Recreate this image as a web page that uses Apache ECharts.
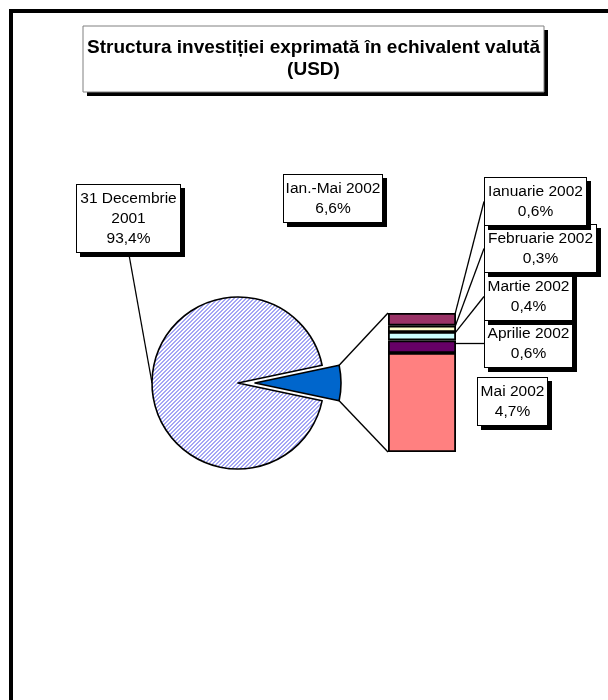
<!DOCTYPE html>
<html>
<head>
<meta charset="utf-8">
<title>Structura investiției</title>
<script src="https://cdn.jsdelivr.net/npm/echarts@6.0.0/dist/echarts.min.js"></script>
<style>
  html, body { margin: 0; padding: 0; background: #fff; }
  #chart { width: 608px; height: 700px; }
</style>
</head>
<body>
<div id="chart"></div>
<script>
// pie: new money in Jan-May 2002 vs. stock at end of 2001
const pieNames = ['Ian.-Mai 2002', '31 Decembrie\n2001'];
const pieValues = [6.6, 93.4];

// bar of pie: the months behind Ian.-Mai 2002 (top to bottom)
const monthNames = ['Ianuarie 2002', 'Februarie 2002', 'Martie 2002', 'Aprilie 2002', 'Mai 2002'];
const monthValues = [0.6, 0.3, 0.4, 0.6, 4.7];
const monthColors = ['#993366', '#ffffcc', '#ccffff', '#660066', '#ff8080'];

const FONT = 'Arial, "Liberation Sans", sans-serif';
const PIE_CX = 238, PIE_CY = 383, PIE_R = 86, PIE_OFFSET = 17;
const BAR_LEFT = 388, BAR_TOP = 313, BAR_W = 68, BAR_H = 139;

// label boxes: centre x, top y, box width
const pieBoxes = [
  { x: 333, y: 175, w: 98 },
  { x: 128.5, y: 185, w: 103 }
];
const monthBoxes = [
  { x: 535.5, y: 178, w: 101 },
  { x: 540.5, y: 225, w: 111 },
  { x: 528.5, y: 273, w: 87 },
  { x: 528.5, y: 320, w: 87 },
  { x: 512.5, y: 378, w: 69 }
];

function pct(v) {
  return v.toFixed(1).replace('.', ',') + '%';
}

// diagonal blue hatching for the big slice
function hatch() {
  const c = document.createElement('canvas');
  c.width = 4;
  c.height = 4;
  const ctx = c.getContext('2d');
  ctx.fillStyle = '#ffffff';
  ctx.fillRect(0, 0, 4, 4);
  ctx.fillStyle = '#a4a6f4';
  for (let i = 0; i < 4; i++) {
    ctx.fillRect(i, 3 - i, 1, 1);
    ctx.fillRect(i, (4 - i) % 4, 1, 1);
  }
  return c;
}

const boxLabel = {
  show: true,
  color: '#000',
  fontFamily: FONT,
  fontSize: 15.5,
  lineHeight: 20,
  align: 'center',
  overflow: 'none',
  backgroundColor: '#fff',
  borderColor: '#000',
  borderWidth: 1,
  padding: [4, 3, 3, 3],
  shadowColor: '#000',
  shadowBlur: 0,
  shadowOffsetX: 4,
  shadowOffsetY: 4
};

const hidden = {
  itemStyle: { color: 'rgba(0,0,0,0)', borderWidth: 0 },
  label: { show: false },
  labelLine: { show: false }
};

const total = pieValues[0] + pieValues[1];
const startAngle = pieValues[0] / total * 180;

// one pie per slice, so the small slice can sit pulled out to the right
function pieSeries(idx, cx) {
  const b = pieBoxes[idx];
  return {
    type: 'pie',
    center: [cx, PIE_CY],
    radius: PIE_R,
    startAngle: startAngle,
    clockwise: true,
    silent: true,
    avoidLabelOverlap: false,
    emphasis: { disabled: true },
    itemStyle: { borderColor: '#000', borderWidth: 1.6 },
    label: Object.assign({}, boxLabel, {
      width: b.w - 6,
      formatter: p => p.name + '\n' + pct(p.value)
    }),
    labelLine: { show: idx === 1, lineStyle: { color: '#000', width: 1.3 } },
    labelLayout: () => {
      const out = { x: b.x, y: b.y, align: 'center', verticalAlign: 'top' };
      if (idx === 1) {
        out.labelLinePoints = [[b.x, b.y + 67], [PIE_CX - PIE_R, PIE_CY]];
      }
      return out;
    },
    data: pieValues.map((v, j) => j === idx
      ? { name: pieNames[j], value: v,
          itemStyle: { color: idx === 0 ? '#0066cc' : { image: hatch(), repeat: 'repeat' } } }
      : Object.assign({ name: pieNames[j], value: v }, hidden))
  };
}

const barSeries = monthNames.map((name, i) => ({
  type: 'bar',
  name: name,
  stack: 'luni',
  barWidth: '100%',
  silent: true,
  data: [monthValues[i]],
  itemStyle: { color: monthColors[i], borderColor: '#000', borderWidth: 1.8 },
  label: Object.assign({}, boxLabel, {
    formatter: name + '\n' + pct(monthValues[i]),
    width: monthBoxes[i].w - 6
  }),
  labelLine: { show: i < 4, lineStyle: { color: '#000', width: 1.3 } },
  labelLayout: p => {
    const b = monthBoxes[i];
    return {
      x: b.x, y: b.y, align: 'center', verticalAlign: 'top',
      labelLinePoints: [
        [p.rect.x + p.rect.width, p.rect.y + p.rect.height / 2],
        [b.x - b.w / 2, b.y + 23.5]
      ]
    };
  }
})).reverse();

const half = pieValues[0] / total * Math.PI;
const wedgeX = PIE_CX + PIE_OFFSET + PIE_R * Math.cos(half);
const wedgeDy = PIE_R * Math.sin(half);

const chart = echarts.init(document.getElementById('chart'));
chart.setOption({
  animation: false,
  grid: { left: BAR_LEFT, top: BAR_TOP, width: BAR_W, height: BAR_H },
  xAxis: { type: 'category', data: ['Ian.-Mai 2002'], show: false },
  yAxis: { type: 'value', min: 0, max: 6.6, show: false },
  graphic: [
    { type: 'rect', z: 0, shape: { x: 11, y: 11, width: 700, height: 800 },
      style: { fill: 'none', stroke: '#000', lineWidth: 4 } },
    { type: 'rect', z: 1, shape: { x: 87, y: 30, width: 461, height: 66 },
      style: { fill: '#000' } },
    { type: 'rect', z: 1, shape: { x: 83, y: 26, width: 461, height: 66 },
      style: { fill: '#fff', stroke: '#808080', lineWidth: 1 } },
    { type: 'text', z: 2, x: 313.5, y: 59,
      style: { text: 'Structura investiției exprimată în echivalent valută\n(USD)',
        fontFamily: FONT, fontSize: 19, fontWeight: 'bold', lineHeight: 22,
        align: 'center', verticalAlign: 'middle', fill: '#000' } },
    { type: 'line', z: 1, shape: { x1: wedgeX, y1: PIE_CY - wedgeDy, x2: BAR_LEFT, y2: BAR_TOP },
      style: { stroke: '#000', lineWidth: 1.4 } },
    { type: 'line', z: 1, shape: { x1: wedgeX, y1: PIE_CY + wedgeDy, x2: BAR_LEFT, y2: BAR_TOP + BAR_H },
      style: { stroke: '#000', lineWidth: 1.4 } }
  ],
  series: [pieSeries(1, PIE_CX), pieSeries(0, PIE_CX + PIE_OFFSET)].concat(barSeries)
});
</script>
</body>
</html>
